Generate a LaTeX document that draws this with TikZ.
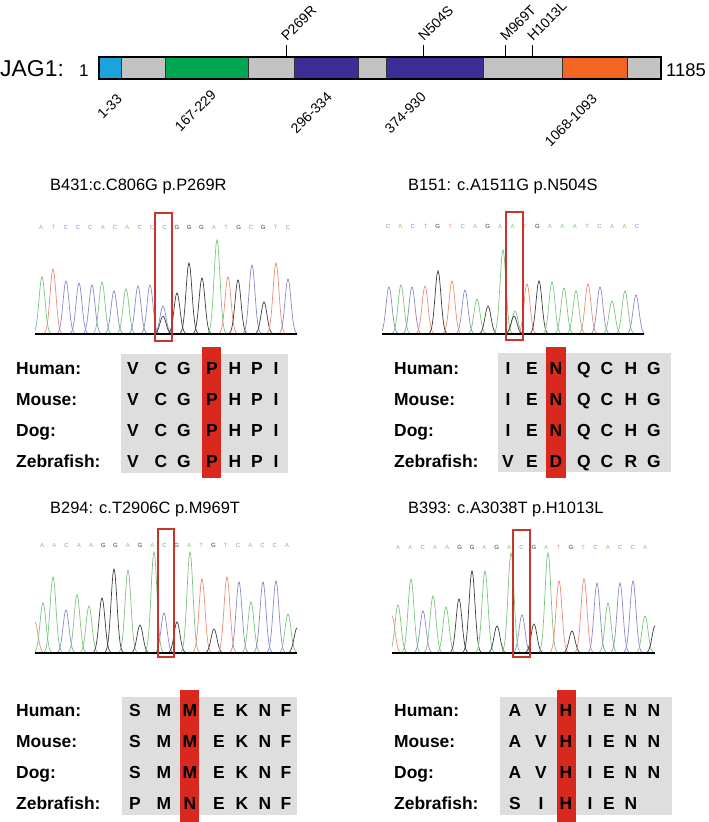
\documentclass[tikz,border=0pt]{standalone}
\usepackage{fontspec}
\setmainfont{Liberation Sans}
\usepackage{tikz}

\definecolor{domcyan}{HTML}{1BA3DB}
\definecolor{domgray}{HTML}{C3C3C3}
\definecolor{domgreen}{HTML}{00A651}
\definecolor{dompurple}{HTML}{3B2F97}
\definecolor{domorange}{HTML}{F26522}
\definecolor{tblgray}{HTML}{DEDEDE}
\definecolor{tblred}{HTML}{D9291F}
\definecolor{boxred}{HTML}{C9352B}
\definecolor{colA}{HTML}{7CC47C}
\definecolor{colT}{HTML}{EE8B74}
\definecolor{colC}{HTML}{868CCB}
\definecolor{colG}{HTML}{3C3C3C}

\begin{document}
\begin{tikzpicture}[x=1bp,y=-1bp,
    every node/.append style={inner sep=0pt},
    declare function={gpk(\t)=exp(-(\t*\t)/17.6);},
    mutlbl/.style={rotate=45,anchor=base west,font=\fontsize{14}{14}\selectfont},
    rangelbl/.style={rotate=45,anchor=base east,font=\fontsize{14}{14}\selectfont},
    ttl/.style={anchor=base west,font=\fontsize{16.5}{16.5}\selectfont},
    seq/.style={font=\fontsize{6}{6}\selectfont},
    trace/.style={line width=0.7bp},
    redbox/.style={draw=boxred,line width=1.3bp},
    species/.style={anchor=base west,font=\bfseries\fontsize{17.5}{17.5}\selectfont},
    aa/.style={anchor=base,font=\bfseries\fontsize{17.5}{17.5}\selectfont}]
    \useasboundingbox (0,0) rectangle (709,822);

    % protein bar
    \node[anchor=base west,font=\fontsize{23}{23}\selectfont] (jag) at (0,77) {JAG1:};
    \node[anchor=base west,font=\fontsize{17}{17}\selectfont] (first) at (79,77) {1};
    \node[anchor=base west,font=\fontsize{18.5}{18.5}\selectfont] (last) at (666,77) {1185};
    \foreach \xa/\xb/\col in {99/121/domcyan,121/165/domgray,165/248/domgreen,248/294/domgray,
        294/358/dompurple,358/386/domgray,386/483/dompurple,483/562/domgray,562/627/domorange,627/661/domgray} {
        \filldraw[fill=\col,draw=black!80,line width=0.8bp] (\xa,57) rectangle (\xb,79);
      }
    \draw[line width=1.2bp] (99,57) rectangle (661,79);
    \foreach \tx/\lbl in {286/P269R,423/N504S,505/M969T,532/H1013L} {
        \coordinate (tk-\lbl) at (\tx,57);
        \draw[line width=1bp] (tk-\lbl) -- ++(0,-12);
        \node[mutlbl] (mut-\lbl) at (\tx+1,42) {\lbl};
      }
    \foreach \rx/\ry/\lbl in {123/100/1-33,217/96/167-229,333/98/296-334,427/98/374-930,598/100/1068-1093} {
        \node[rangelbl] (rng-\lbl) at (\rx,\ry) {\lbl};
      }

    % top left panel
    \begin{scope}
      \node[ttl] (ttl-tl) at (50,190) {B431:c.C806G p.P269R};
      \foreach \b [count=\i from 0] in {A,T,C,C,C,A,C,A,C,C,C,G,G,G,A,T,G,C,G,T,C} {
          \node[seq,text=col\b] (tlseq\i) at (41+12.35*\i,227) {\b};
        }
      \begin{scope}[shift={(0,334)}]
        \clip (35,-110) rectangle (297,2);
        \foreach \px/\ph/\pc in {42/57/colA,53/65/colT,66/53/colC,79/51/colC,92/49/colC,102/52/colA,
            114/43/colC,126/45/colA,138/48/colC,150/49/colC,163/28/colC,163/18/colG,177/41/colG,
            189/71/colG,202/56/colG,217/94/colA,228/57/colT,238/54/colG,252/69/colC,264/32/colG,
            276/71/colT,288/55/colC} {
            \draw[trace,\pc] plot[domain=\px-11:\px+11,samples=23,smooth] (\x,{-\ph*gpk(\x-\px)});
          }
        \draw[line width=1.2bp] (35,0) -- (297,0);
      \end{scope}
      \draw[redbox] (155,213) rectangle (172,341);
      \fill[tblgray] (121,354) rectangle (288,473);
      \fill[tblred] (202,347) rectangle (221,478);
      \foreach \sp/\ry in {Human/374,Mouse/405,Dog/436,Zebrafish/467} {
          \node[species] (tl-\sp) at (16,\ry) {\sp:};
        }
      \foreach \cx/\ha/\mo/\dg/\zf in {133/V/V/V/V,161/C/C/C/C,184/G/G/G/G,212/P/P/P/P,
          235/H/H/H/H,257/P/P/P/P,276/I/I/I/I} {
          \foreach \ry/\aa in {374/\ha,405/\mo,436/\dg,467/\zf}
          \node[aa] (tl-\cx-\ry) at (\cx,\ry) {\aa};
        }
    \end{scope}

    % top right panel
    \begin{scope}
      \node[ttl] (ttl-tr) at (408,190) {B151: c.A1511G p.N504S};
      \foreach \b [count=\i from 0] in {C,A,C,T,G,T,C,A,G,A,A,T,G,A,A,A,T,C,A,A,C} {
          \node[seq,text=col\b] (trseq\i) at (388+12.45*\i,226) {\b};
        }
      \begin{scope}[shift={(0,334)}]
        \clip (382,-110) rectangle (644,2);
        \foreach \px/\ph/\pc in {389/47/colC,401/49/colA,412/47/colC,425/48/colT,438/63/colG,
            452/53/colT,465/44/colC,477/35/colA,488/28/colG,503/84/colA,515/23/colA,514/18/colG,
            527/50/colT,539/53/colG,552/52/colA,564/46/colA,576/43/colA,588/50/colT,600/47/colC,
            612/33/colA,625/43/colA,636/39/colC} {
            \draw[trace,\pc] plot[domain=\px-11:\px+11,samples=23,smooth] (\x,{-\ph*gpk(\x-\px)});
          }
        \draw[line width=1.2bp] (382,0) -- (644,0);
      \end{scope}
      \draw[redbox] (506,212) rectangle (523,340);
      \fill[tblgray] (498,353) rectangle (671,472);
      \fill[tblred] (546,347) rectangle (566,478);
      \foreach \sp/\ry in {Human/374,Mouse/405,Dog/436,Zebrafish/467} {
          \node[species] (tr-\sp) at (394,\ry) {\sp:};
        }
      \foreach \cx/\ha/\mo/\dg/\zf in {508/I/I/I/V,532/E/E/E/E,556/N/N/N/D,584/Q/Q/Q/Q,
          607/C/C/C/C,631/H/H/H/R,654/G/G/G/G} {
          \foreach \ry/\aa in {374/\ha,405/\mo,436/\dg,467/\zf}
          \node[aa] (tr-\cx-\ry) at (\cx,\ry) {\aa};
        }
    \end{scope}

    % bottom left panel
    \begin{scope}
      \node[ttl] (ttl-bl) at (50,513) {B294: c.T2906C p.M969T};
      \foreach \b [count=\i from 0] in {A,A,C,A,A,G,G,A,G,A,C,G,A,T,G,T,C,A,C,C,A} {
          \node[seq,text=col\b] (blseq\i) at (42+12.25*\i,545) {\b};
        }
      \begin{scope}[shift={(0,653)}]
        \clip (35,-110) rectangle (297,2);
        \foreach \px/\ph/\pc in {35/31/colT,43/50/colA,53/76/colA,66/43/colC,77/58/colA,89/47/colA,
            102/55/colG,114/84/colG,128/83/colA,140/28/colG,154/101/colA,164/40/colC,177/31/colG,
            190/101/colA,202/74/colT,214/24/colG,227/76/colT,239/71/colC,251/51/colA,263/71/colC,
            276/72/colC,288/39/colA,297/25/colG} {
            \draw[trace,\pc] plot[domain=\px-11:\px+11,samples=23,smooth] (\x,{-\ph*gpk(\x-\px)});
          }
        \draw[line width=1.2bp] (35,0) -- (297,0);
      \end{scope}
      \draw[redbox] (158,529) rectangle (174,657);
      \fill[tblgray] (122,697) rectangle (297,815);
      \fill[tblred] (180,690) rectangle (199,822);
      \foreach \sp/\ry in {Human/716,Mouse/747,Dog/778,Zebrafish/809} {
          \node[species] (bl-\sp) at (16,\ry) {\sp:};
        }
      \foreach \cx/\ha/\mo/\dg/\zf in {135/S/S/S/P,164/M/M/M/M,190/M/M/M/N,219/E/E/E/E,
          242/K/K/K/K,265/N/N/N/N,286/F/F/F/F} {
          \foreach \ry/\aa in {716/\ha,747/\mo,778/\dg,809/\zf}
          \node[aa] (bl-\cx-\ry) at (\cx,\ry) {\aa};
        }
    \end{scope}

    % bottom right panel
    \begin{scope}
      \node[ttl] (ttl-br) at (408,513) {B393: c.A3038T p.H1013L};
      \foreach \b [count=\i from 0] in {A,A,C,A,A,G,G,A,G,A,C,G,A,T,G,T,C,A,C,C,A} {
          \node[seq,text=col\b] (brseq\i) at (398+12.35*\i,547) {\b};
        }
      \begin{scope}[shift={(0,653)}]
        \clip (392,-110) rectangle (655,2);
        \foreach \px/\ph/\pc in {392/37/colT,398/48/colA,411/74/colA,423/42/colC,433/57/colA,
            446/46/colA,459/54/colG,472/82/colG,485/82/colA,497/27/colG,511/100/colA,522/38/colC,
            534/29/colG,548/100/colA,559/72/colT,572/22/colG,584/74/colT,597/70/colC,608/50/colA,
            620/70/colC,633/72/colC,645/37/colA,655/27/colG} {
            \draw[trace,\pc] plot[domain=\px-11:\px+11,samples=23,smooth] (\x,{-\ph*gpk(\x-\px)});
          }
        \draw[line width=1.2bp] (392,0) -- (655,0);
      \end{scope}
      \draw[redbox] (513,530) rectangle (530,657);
      \fill[tblgray] (500,697) rectangle (672,815);
      \fill[tblred] (557,690) rectangle (576,822);
      \foreach \sp/\ry in {Human/716,Mouse/747,Dog/778,Zebrafish/809} {
          \node[species] (br-\sp) at (394,\ry) {\sp:};
        }
      \foreach \cx/\ha/\mo/\dg/\zf in {515/A/A/A/S,541/V/V/V/I,566/H/H/H/H,590/I/I/I/I,
          609/E/E/E/E,631/N/N/N/N,654/N/N/N/{}} {
          \foreach \ry/\aa in {716/\ha,747/\mo,778/\dg,809/\zf}
          \node[aa] (br-\cx-\ry) at (\cx,\ry) {\aa};
        }
    \end{scope}
  \end{tikzpicture}
\end{document}
